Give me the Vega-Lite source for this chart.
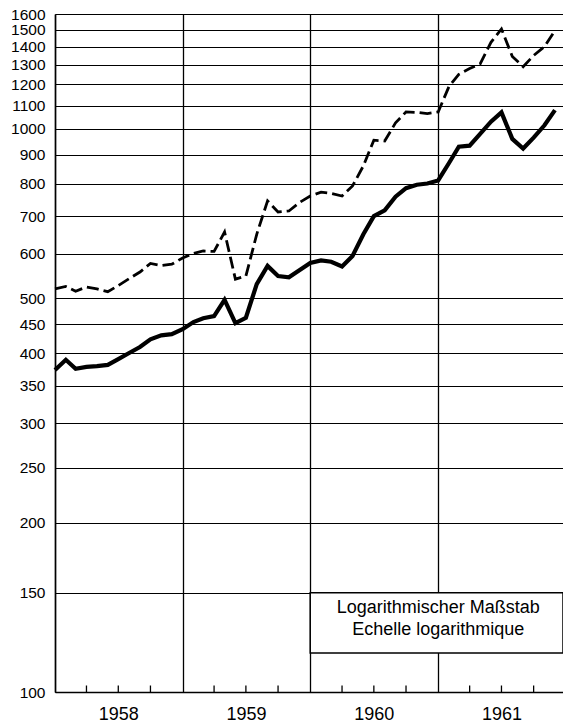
{
  "$schema": "https://vega.github.io/schema/vega-lite/v6.json",
  "width": 508,
  "height": 678,
  "autosize": {"type": "none"},
  "padding": {"left": 55, "top": 14, "right": 0, "bottom": 32},
  "background": "white",
  "config": {
    "view": {"stroke": null},
    "font": "Liberation Sans",
    "axis": {"labelColor": "black", "domainColor": "black", "tickColor": "black", "gridColor": "black", "labelFont": "Liberation Sans"}
  },
  "datasets": {
    "upper": [
      {"month": "1958-01-01", "value": 520}, {"month": "1958-02-01", "value": 525}, {"month": "1958-03-01", "value": 515},
      {"month": "1958-04-01", "value": 524}, {"month": "1958-05-01", "value": 520}, {"month": "1958-06-01", "value": 514},
      {"month": "1958-07-01", "value": 527}, {"month": "1958-08-01", "value": 542}, {"month": "1958-09-01", "value": 557},
      {"month": "1958-10-01", "value": 577}, {"month": "1958-11-01", "value": 572}, {"month": "1958-12-01", "value": 575},
      {"month": "1959-01-01", "value": 590}, {"month": "1959-02-01", "value": 601}, {"month": "1959-03-01", "value": 607},
      {"month": "1959-04-01", "value": 606}, {"month": "1959-05-01", "value": 656}, {"month": "1959-06-01", "value": 541},
      {"month": "1959-07-01", "value": 548}, {"month": "1959-08-01", "value": 650}, {"month": "1959-09-01", "value": 745},
      {"month": "1959-10-01", "value": 712}, {"month": "1959-11-01", "value": 715}, {"month": "1959-12-01", "value": 740},
      {"month": "1960-01-01", "value": 760}, {"month": "1960-02-01", "value": 772}, {"month": "1960-03-01", "value": 768},
      {"month": "1960-04-01", "value": 760}, {"month": "1960-05-01", "value": 792}, {"month": "1960-06-01", "value": 860},
      {"month": "1960-07-01", "value": 955}, {"month": "1960-08-01", "value": 952}, {"month": "1960-09-01", "value": 1025},
      {"month": "1960-10-01", "value": 1072}, {"month": "1960-11-01", "value": 1070}, {"month": "1960-12-01", "value": 1065},
      {"month": "1961-01-01", "value": 1072}, {"month": "1961-02-01", "value": 1190}, {"month": "1961-03-01", "value": 1250},
      {"month": "1961-04-01", "value": 1280}, {"month": "1961-05-01", "value": 1305}, {"month": "1961-06-01", "value": 1425},
      {"month": "1961-07-01", "value": 1505}, {"month": "1961-08-01", "value": 1345}, {"month": "1961-09-01", "value": 1290},
      {"month": "1961-10-01", "value": 1350}, {"month": "1961-11-01", "value": 1400}, {"month": "1961-12-01", "value": 1495}
    ],
    "lower": [
      {"month": "1958-01-01", "value": 373}, {"month": "1958-02-01", "value": 389}, {"month": "1958-03-01", "value": 375},
      {"month": "1958-04-01", "value": 378}, {"month": "1958-05-01", "value": 379}, {"month": "1958-06-01", "value": 381},
      {"month": "1958-07-01", "value": 390}, {"month": "1958-08-01", "value": 400}, {"month": "1958-09-01", "value": 410},
      {"month": "1958-10-01", "value": 423}, {"month": "1958-11-01", "value": 430}, {"month": "1958-12-01", "value": 432},
      {"month": "1959-01-01", "value": 441}, {"month": "1959-02-01", "value": 454}, {"month": "1959-03-01", "value": 461},
      {"month": "1959-04-01", "value": 465}, {"month": "1959-05-01", "value": 497}, {"month": "1959-06-01", "value": 452},
      {"month": "1959-07-01", "value": 462}, {"month": "1959-08-01", "value": 530}, {"month": "1959-09-01", "value": 571},
      {"month": "1959-10-01", "value": 548}, {"month": "1959-11-01", "value": 545}, {"month": "1959-12-01", "value": 561},
      {"month": "1960-01-01", "value": 578}, {"month": "1960-02-01", "value": 584}, {"month": "1960-03-01", "value": 581},
      {"month": "1960-04-01", "value": 570}, {"month": "1960-05-01", "value": 595}, {"month": "1960-06-01", "value": 650},
      {"month": "1960-07-01", "value": 700}, {"month": "1960-08-01", "value": 717}, {"month": "1960-09-01", "value": 758},
      {"month": "1960-10-01", "value": 785}, {"month": "1960-11-01", "value": 796}, {"month": "1960-12-01", "value": 800},
      {"month": "1961-01-01", "value": 810}, {"month": "1961-02-01", "value": 870}, {"month": "1961-03-01", "value": 930},
      {"month": "1961-04-01", "value": 934}, {"month": "1961-05-01", "value": 980}, {"month": "1961-06-01", "value": 1030},
      {"month": "1961-07-01", "value": 1070}, {"month": "1961-08-01", "value": 960}, {"month": "1961-09-01", "value": 923},
      {"month": "1961-10-01", "value": 965}, {"month": "1961-11-01", "value": 1015}, {"month": "1961-12-01", "value": 1080}
    ],
    "quarters": [
      {"q": "1958-04-01", "base": 100}, {"q": "1958-07-01", "base": 100}, {"q": "1958-10-01", "base": 100},
      {"q": "1959-04-01", "base": 100}, {"q": "1959-07-01", "base": 100}, {"q": "1959-10-01", "base": 100},
      {"q": "1960-04-01", "base": 100}, {"q": "1960-07-01", "base": 100}, {"q": "1960-10-01", "base": 100},
      {"q": "1961-04-01", "base": 100}, {"q": "1961-07-01", "base": 100}, {"q": "1961-10-01", "base": 100}
    ],
    "box": [
      {"start": "1960-01-01", "end": "1961-12-24", "low": 117.3, "high": 150}
    ],
    "boxtext": [
      {"pos": "1961-01-01", "value": 141, "label": "Logarithmischer Maßstab"},
      {"pos": "1961-01-01", "value": 129, "label": "Echelle logarithmique"}
    ]
  },
  "layer": [
    {
      "data": {"name": "upper"},
      "mark": {"type": "line", "color": "black", "strokeWidth": 2.8, "strokeDash": [12, 5], "clip": false},
      "encoding": {
        "x": {
          "field": "month", "type": "temporal",
          "scale": {"type": "utc", "domain": [{"year": 1958, "month": 1, "date": 1, "utc": true}, {"year": 1961, "month": 12, "date": 24, "utc": true}]},
          "axis": {
            "title": null,
            "values": [
              {"year": 1958, "month": 1, "date": 1, "utc": true}, {"year": 1958, "month": 7, "date": 1, "utc": true},
              {"year": 1959, "month": 1, "date": 1, "utc": true}, {"year": 1959, "month": 7, "date": 1, "utc": true},
              {"year": 1960, "month": 1, "date": 1, "utc": true}, {"year": 1960, "month": 7, "date": 1, "utc": true},
              {"year": 1961, "month": 1, "date": 1, "utc": true}, {"year": 1961, "month": 7, "date": 1, "utc": true}
            ],
            "labelExpr": "utcmonth(datum.value) == 6 ? '' + utcyear(datum.value) : ''",
            "labelFontSize": 18,
            "labelPadding": 13,
            "labelFlush": false,
            "labelOverlap": false,
            "labelBaseline": "top",
            "ticks": false,
            "domainWidth": 1.5,
            "grid": true,
            "gridWidth": 1.3,
            "gridOpacity": {"condition": {"test": "utcmonth(datum.value) == 0", "value": 1}, "value": 0}
          }
        },
        "y": {
          "field": "value", "type": "quantitative",
          "scale": {"type": "log", "domain": [100, 1600], "nice": false},
          "axis": {
            "title": null,
            "values": [100, 150, 200, 250, 300, 350, 400, 450, 500, 600, 700, 800, 900, 1000, 1100, 1200, 1300, 1400, 1500, 1600],
            "format": "d",
            "ticks": false,
            "labelPadding": 10,
            "labelFontSize": 15.5,
            "labelOverlap": false,
            "labelFlush": false,
            "labelBound": false,
            "domainWidth": 1.5,
            "grid": true,
            "gridWidth": 1.2
          }
        }
      }
    },
    {
      "data": {"name": "lower"},
      "mark": {"type": "line", "color": "black", "strokeWidth": 4.2, "strokeJoin": "miter", "clip": false},
      "encoding": {
        "x": {"field": "month", "type": "temporal"},
        "y": {"field": "value", "type": "quantitative"}
      }
    },
    {
      "data": {"name": "quarters"},
      "mark": {"type": "tick", "orient": "vertical", "color": "black", "size": 13, "thickness": 1.3, "opacity": 1, "clip": true},
      "encoding": {
        "x": {"field": "q", "type": "temporal"},
        "y": {"field": "base", "type": "quantitative"}
      }
    },
    {
      "data": {"name": "box"},
      "mark": {"type": "rect", "fill": "white", "stroke": "black", "strokeWidth": 1.5, "clip": false},
      "encoding": {
        "x": {"field": "start", "type": "temporal"},
        "x2": {"field": "end"},
        "y": {"field": "low", "type": "quantitative"},
        "y2": {"field": "high"}
      }
    },
    {
      "data": {"name": "boxtext"},
      "mark": {"type": "text", "color": "black", "fontSize": 18, "font": "Liberation Sans", "align": "center", "baseline": "middle"},
      "encoding": {
        "x": {"field": "pos", "type": "temporal"},
        "y": {"field": "value", "type": "quantitative"},
        "text": {"field": "label"}
      }
    }
  ]
}
